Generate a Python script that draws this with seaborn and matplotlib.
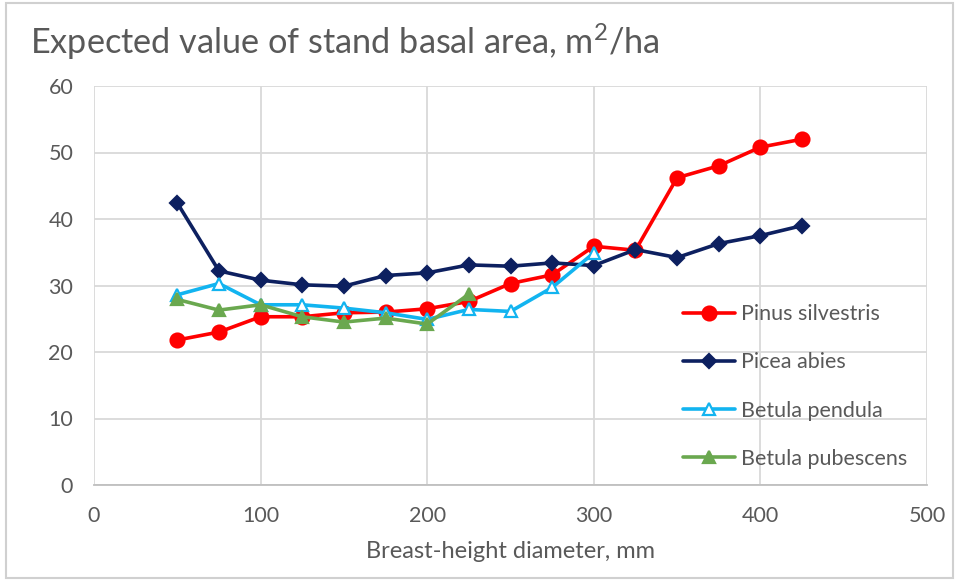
import matplotlib
matplotlib.use("Agg")
import matplotlib.pyplot as plt
import seaborn as sns
import pandas as pd
from matplotlib.patches import Rectangle

diam = [50, 75, 100, 125, 150, 175, 200, 225, 250, 275, 300, 325, 350, 375, 400, 425]
pinus = [21.8, 23.0, 25.3, 25.3, 25.9, 26.0, 26.5, 27.6, 30.3, 31.6, 35.9, 35.3, 46.2, 48.0, 50.8, 52.0]
picea = [42.4, 32.2, 30.8, 30.1, 29.9, 31.5, 31.9, 33.1, 32.9, 33.4, 33.0, 35.4, 34.2, 36.3, 37.5, 39.0]
diam_pend = [50, 75, 100, 125, 150, 175, 200, 225, 250, 275, 300]
pendula = [28.6, 30.3, 27.1, 27.1, 26.6, 25.9, 24.9, 26.4, 26.1, 29.7, 34.9]
diam_pub = [50, 75, 100, 125, 150, 175, 200, 225]
pubescens = [27.9, 26.3, 27.1, 25.3, 24.5, 25.1, 24.2, 28.7]

names = ["Pinus silvestris", "Picea abies", "Betula pendula", "Betula pubescens"]
title = "Expected value of stand basal area, m$^2$/ha"
xlabel = "Breast-height diameter, mm"

sns.set_theme(style="white")
plt.rcParams['font.family'] = ['Lato', 'DejaVu Sans']
plt.rcParams['mathtext.fontset'] = 'custom'
plt.rcParams['mathtext.rm'] = 'Lato'

fig = plt.figure(figsize=(9.59, 5.80), dpi=100)
ax = fig.add_axes([94/959, 1-485/580, (927-94)/959, (485-86)/580])

grey = "#595959"
series = [
    (diam, pinus, names[0], "#FF0000", "o", 10, "#FF0000"),
    (diam, picea, names[1], "#0D2060", "D", 7, "#0D2060"),
    (diam_pend, pendula, names[2], "#12B4F0", "^", 9, "white"),
    (diam_pub, pubescens, names[3], "#6AA84F", "^", 9, "#6AA84F"),
]
for xs, ys, nm, c, m, ms, fc in series:
    df = pd.DataFrame({"x": xs, "y": ys})
    sns.lineplot(data=df, x="x", y="y", ax=ax, color=c, linewidth=2.6,
                 marker=m, markersize=ms, markerfacecolor=fc,
                 markeredgecolor=c, markeredgewidth=1.6, label=nm)

ax.set_xlim(0, 500)
ax.set_ylim(0, 60)
ax.set_xticks(range(0, 501, 100))
ax.set_yticks(range(0, 61, 10))
ax.grid(True, color="#D9D9D9", linewidth=1.3)
ax.set_axisbelow(True)
for s in ["top", "right", "left"]:
    ax.spines[s].set_visible(False)
ax.spines["bottom"].set_color("#BFBFBF")
ax.spines["bottom"].set_linewidth(1.3)
ax.tick_params(axis="both", colors=grey, labelsize=15.5, length=0)
ax.tick_params(axis="y", pad=15)
ax.tick_params(axis="x", pad=15)
ax.set_xlabel(xlabel, fontsize=17, color=grey, labelpad=11)
ax.set_ylabel("")

leg = ax.legend(loc="lower right", bbox_to_anchor=(1.0, -0.008), frameon=False,
                fontsize=15.5, labelspacing=1.31, handlelength=2.4,
                handletextpad=0.3, labelcolor=grey)

fig.text(30/959, 1-42/580, title, fontsize=24.7, color=grey, va="center", ha="left")
fig.patches.append(Rectangle((0.006, 0.004), 0.988, 0.99, transform=fig.transFigure,
                             fill=False, edgecolor="#D0D0D0", linewidth=1.5))
fig.savefig("out.png", dpi=100)
